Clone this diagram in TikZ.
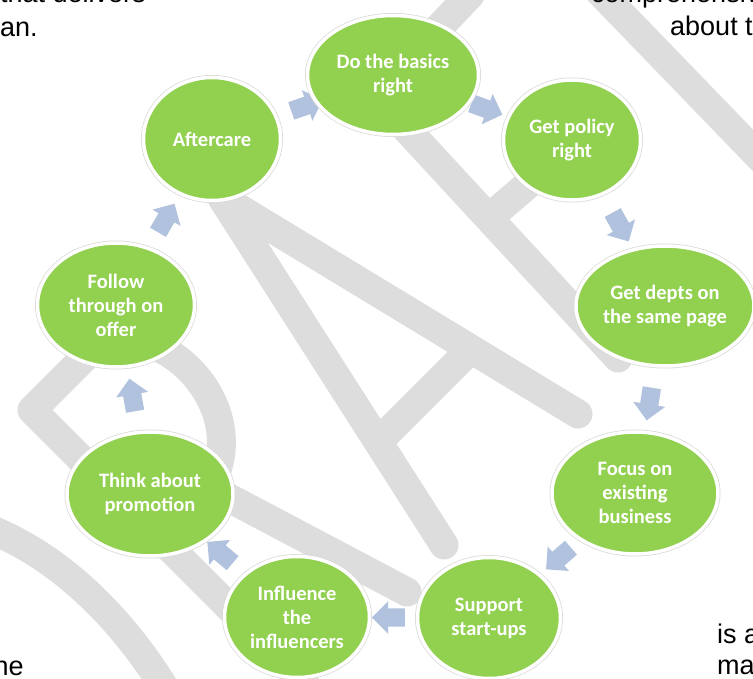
\documentclass[tikz,border=0pt]{standalone}
\usepackage{fontspec}
\setmainfont{Liberation Sans}
\newfontfamily\smartfont{Carlito}
\usetikzlibrary{calc, shapes.geometric, shapes.arrows}
\definecolor{leafgreen}{RGB}{146,208,80}
\definecolor{arrowblue}{RGB}{176,194,222}
\definecolor{draftgray}{RGB}{221,221,221}
\pgfdeclarelayer{draft}
\pgfdeclarelayer{flow}
\pgfsetlayers{draft,flow,main}

\begin{document}
\begin{tikzpicture}[x=1pt, y=-1pt,
    stagebox/.style={ellipse, fill=leafgreen, draw=white, line width=3.5pt,
        preaction={draw=black!15, line width=5pt},
        text=white, font=\smartfont\bfseries\fontsize{20.5}{24}\selectfont, align=center, inner sep=0pt},
    flowarrow/.style={single arrow, fill=arrowblue, minimum height=33pt,
        inner xsep=0pt, inner ysep=9pt, single arrow head extend=7pt},
    draftstroke/.style={draw=draftgray, line width=29pt, line cap=round, line join=round},
    pagetext/.style={font=\fontsize{27}{31}\selectfont, inner sep=0pt, anchor=base west}]
    \useasboundingbox (0,0) rectangle (753,679);
    \clip (0,0) rectangle (753,679);

    % watermark behind the cycle
    \begin{pgfonlayer}{draft}
        \draw[draftstroke] (-30,522) .. controls (50,547) and (120,612) .. (172,700);
        \draw[draftstroke] (305,683) -- (32,410) -- (85,357) .. controls (140,300) and (255,395) .. (212,482) -- (165,530);
        \draw[draftstroke] (195,480) -- (407,592);
        \draw[draftstroke] (444,545) -- (222,198) -- (578,414);
        \draw[draftstroke] (470,350) -- (380,440);
        \draw[draftstroke] (470,-5) -- (375,95) -- (618,358);
        \draw[draftstroke] (490,217) -- (560,157);
        \draw[draftstroke] (596,-12) -- (770,168);
    \end{pgfonlayer}

    % running text round the figure
    \node[pagetext] (textA) at (0,3) {that delivers};
    \node[pagetext] (textB) at (0,37) {an.};
    \node[pagetext] (textC) at (591,3) {comprehensive};
    \node[pagetext] (textD) at (670,36) {about the};
    \node[pagetext] (textE) at (717,643) {is a};
    \node[pagetext] (textF) at (717,674) {ma};
    \node[pagetext] (textG) at (-6.5,675) {he};

    % stages
    \node[stagebox, minimum width=137pt, minimum height=123pt] (aftercare) at (212,139) {Aftercare};
    \node[stagebox, minimum width=171pt, minimum height=119pt] (basics) at (393,75) {Do the basics\\right};
    \node[stagebox, minimum width=137pt, minimum height=120pt] (policy) at (572,140) {Get policy\\right};
    \node[stagebox, minimum width=178pt, minimum height=120pt] (depts) at (665,306) {Get depts on\\the same page};
    \node[stagebox, minimum width=166pt, minimum height=122pt] (focus) at (635,493) {Focus on\\existing\\business};
    \node[stagebox, minimum width=143pt, minimum height=121pt] (support) at (489,618) {Support\\start-ups};
    \node[stagebox, minimum width=145pt, minimum height=121pt] (influence) at (297,617) {Influence\\the\\influencers};
    \node[stagebox, minimum width=166pt, minimum height=124pt] (promotion) at (150,494) {Think about\\promotion};
    \node[stagebox, minimum width=157pt, minimum height=124pt] (follow) at (116,305) {Follow\\through on\\offer};

    % arrows between the stages
    \begin{pgfonlayer}{flow}
        \node[flowarrow, rotate=19] (a1) at ($(aftercare)!0.5!(basics)$) {};
        \node[flowarrow, rotate=-20] (a2) at ($(basics)!0.5!(policy)$) {};
        \node[flowarrow, rotate=-61] (a3) at ($(policy)!0.5!(depts)$) {};
        \node[flowarrow, rotate=-99] (a4) at ($(depts)!0.5!(focus)$) {};
        \node[flowarrow, rotate=-139] (a5) at ($(focus)!0.5!(support)$) {};
        \node[flowarrow, rotate=180] (a6) at ($(support)!0.5!(influence)$) {};
        \node[flowarrow, rotate=140] (a7) at ($(influence)!0.5!(promotion)$) {};
        \node[flowarrow, rotate=100] (a8) at ($(promotion)!0.5!(follow)$) {};
        \node[flowarrow, rotate=60] (a9) at ($(follow)!0.5!(aftercare)$) {};
    \end{pgfonlayer}
\end{tikzpicture}
\end{document}
